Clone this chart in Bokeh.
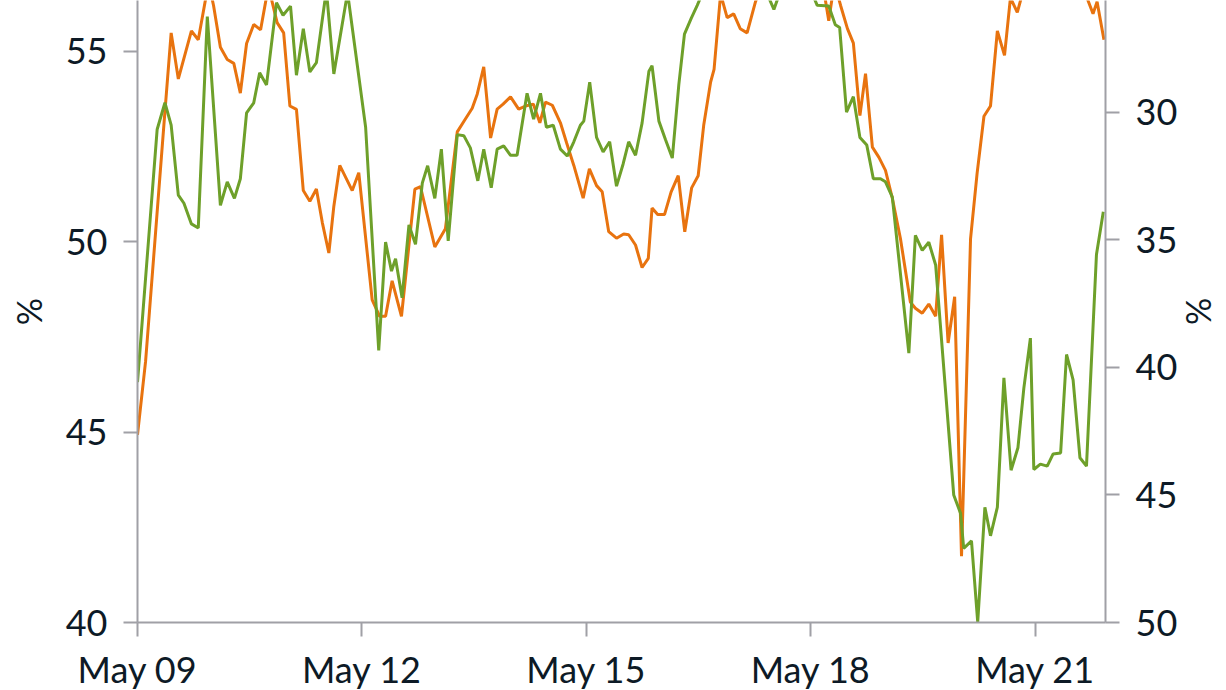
import pandas as pd
from bokeh.plotting import figure
from bokeh.models import Range1d, LinearAxis, FixedTicker, DatetimeTickFormatter
from bokeh.embed import file_html
from bokeh.resources import INLINE

# ---------------- data ----------------
start_date = "2023-05-09"
x_tick_dates = ["2023-05-09", "2023-05-12", "2023-05-15", "2023-05-18", "2023-05-21"]
end_hours = 310.6

left_ticks = [40, 45, 50, 55]
right_ticks = [30, 35, 40, 45, 50]

orange_hours = [0.0, 2.6, 8.6, 10.8, 13.1, 17.3, 19.5, 22.8, 24.4, 26.6, 28.8, 30.9, 33.0, 35.0, 37.3,
                39.5, 42.0, 44.8, 46.9, 48.9, 51.0, 53.2, 55.3, 57.4, 59.3, 61.4, 63.0, 64.9, 68.9,
                71.0, 75.3, 77.7, 79.6, 81.7, 84.7, 89.0, 90.8, 95.4, 98.8, 102.6, 104.9, 107.4,
                109.0, 111.1, 113.3, 115.4, 117.3, 119.7, 122.3, 124.5, 127.0, 129.1, 130.9, 133.1,
                135.7, 137.7, 140.0, 143.0, 145.0, 147.3, 149.1, 151.2, 153.7, 156.0, 157.6, 159.8,
                161.9, 163.9, 165.1, 166.9, 169.1, 171.2, 173.5, 175.6, 177.8, 179.9, 181.7, 183.9,
                185.0, 187.1, 189.2, 191.3, 193.4, 195.6, 198.3, 201.5, 206.3, 211.1, 215.9, 219.8,
                221.8, 223.6, 225.6, 227.8, 229.7, 231.8, 233.6, 235.8, 237.9, 240.0, 242.2, 244.8,
                248.0, 249.6, 251.8, 253.9, 256.1, 258.0, 260.1, 262.2, 264.4, 267.3, 269.4, 271.6,
                273.7, 275.9, 278.2, 280.1, 282.3, 284.9, 289.7, 294.5, 299.4, 304.2, 306.6, 307.9,
                310.1]
orange_values = [44.93, 46.86, 53.2, 55.48, 54.27, 55.53, 55.30, 56.80, 56.20, 55.10, 54.78, 54.68,
                 53.90, 55.20, 55.70, 55.56, 56.70, 55.75, 55.48, 53.56, 53.47, 51.34, 51.06, 51.38,
                 50.50, 49.70, 50.93, 52.00, 51.34, 51.81, 48.47, 48.04, 48.04, 48.97, 48.04, 51.38,
                 51.44, 49.86, 50.34, 52.88, 53.18, 53.50, 53.87, 54.59, 52.72, 53.48, 53.61, 53.80,
                 53.48, 53.56, 53.61, 53.12, 53.66, 53.58, 53.12, 52.59, 52.00, 51.14, 51.91, 51.47,
                 51.31, 50.26, 50.09, 50.20, 50.18, 49.91, 49.32, 49.56, 50.88, 50.71, 50.71, 51.30,
                 51.73, 50.26, 51.41, 51.73, 53.07, 54.19, 54.52, 56.50, 55.88, 55.98, 55.59, 55.48,
                 56.30, 57.00, 57.40, 57.00, 57.60, 56.80, 55.80, 56.80, 56.20, 55.59, 55.21, 53.31,
                 54.41, 52.48, 52.21, 51.87, 51.14, 50.08, 48.41, 48.25, 48.12, 48.36, 48.04, 50.18,
                 47.34, 48.55, 41.74, 50.08, 51.79, 53.29, 53.56, 55.53, 54.89, 56.40, 56.02, 56.80,
                 57.20, 57.00, 56.80, 56.50, 55.98, 56.30, 55.30]

green_hours = [0.0, 6.3, 8.8, 10.8, 13.1, 14.9, 17.3, 19.5, 22.4, 26.6, 28.8, 31.1, 33.0, 35.0, 37.3,
               39.2, 41.4, 44.6, 46.7, 49.1, 51.0, 53.2, 55.3, 57.4, 60.6, 63.0, 67.4, 73.2, 77.4,
               79.6, 81.5, 82.8, 84.9, 87.1, 89.2, 91.4, 93.1, 95.4, 97.5, 99.7, 102.6, 104.7,
               106.8, 109.2, 111.1, 113.5, 115.4, 117.5, 119.7, 121.8, 125.0, 127.1, 129.3, 131.2,
               133.4, 135.7, 137.9, 140.0, 142.1, 143.2, 145.1, 147.3, 149.4, 151.5, 153.7, 155.8,
               157.6, 159.8, 161.9, 164.1, 165.1, 167.3, 169.4, 171.6, 173.7, 175.5, 177.7, 179.6,
               182.4, 187.1, 191.9, 196.8, 201.5, 204.2, 207.0, 211.8, 216.0, 218.1, 221.8, 223.9,
               225.3, 227.5, 229.7, 231.8, 234.0, 236.1, 238.4, 240.0, 242.2, 247.5, 249.6, 251.8,
               253.9, 256.1, 261.9, 264.1, 265.1, 267.6, 269.6, 271.9, 273.7, 275.9, 278.0, 280.3,
               282.5, 284.4, 286.5, 287.6, 289.7, 291.9, 293.8, 296.2, 298.1, 300.2, 302.4, 304.5,
               307.7, 309.9]
green_values = [40.57, 30.67, 29.62, 30.50, 33.24, 33.56, 34.37, 34.53, 26.24, 33.64, 32.72, 33.37,
                32.60, 30.02, 29.62, 28.44, 28.92, 25.70, 26.19, 25.83, 28.54, 26.72, 28.41, 28.05,
                25.20, 28.49, 25.30, 30.58, 39.33, 35.08, 36.22, 35.74, 37.27, 34.41, 35.17, 32.76,
                32.09, 33.37, 31.44, 35.04, 30.87, 30.91, 31.39, 32.68, 31.44, 32.95, 31.44, 31.31,
                31.68, 31.68, 29.25, 30.26, 29.25, 30.58, 30.50, 31.44, 31.71, 31.15, 30.50, 30.34,
                28.81, 30.98, 31.55, 31.15, 32.89, 32.03, 31.15, 31.68, 30.42, 28.38, 28.17, 30.34,
                31.06, 31.79, 28.90, 26.93, 26.30, 25.80, 25.00, 24.50, 24.90, 24.40, 25.20, 25.96,
                25.00, 24.60, 25.20, 25.80, 25.83, 26.56, 26.67, 29.99, 29.38, 30.98, 31.28, 32.60,
                32.60, 32.72, 33.32, 39.44, 34.82, 35.41, 35.09, 35.98, 45.00, 45.72, 47.09, 46.80,
                49.99, 45.48, 46.60, 45.48, 40.41, 44.03, 43.15, 40.81, 38.85, 44.00, 43.79, 43.87,
                43.39, 43.35, 39.49, 40.49, 43.54, 43.87, 35.57, 33.89]

# ---------------- build ----------------
base = pd.Timestamp(start_date)
orange_x = [base + pd.Timedelta(hours=h) for h in orange_hours]
green_x = [base + pd.Timedelta(hours=h) for h in green_hours]
tick_ms = [pd.Timestamp(d).value // 10**6 for d in x_tick_dates]

FONT = "Lato"
TXT = "#0d1a26"
AX = "#a0a0a6"
FS = "36px"

p = figure(frame_width=968, frame_height=622, x_axis_type="datetime",
           x_range=Range1d(base, base + pd.Timedelta(hours=end_hours)),
           y_range=Range1d(40, 56.33),
           output_backend="svg", toolbar_location=None,
           min_border_left=137, min_border_right=90, min_border_top=0, min_border_bottom=40)
p.extra_y_ranges = {"right": Range1d(50, 25.61)}

p.outline_line_color = None
p.xgrid.visible = False
p.ygrid.visible = False
p.background_fill_color = "white"

p.line(orange_x, orange_values, line_color="#e8730f", line_width=3)
p.line(green_x, green_values, line_color="#6ea02a", line_width=3, y_range_name="right")

raxis = LinearAxis(y_range_name="right")
p.add_layout(raxis, "right")

for ax in [p.xaxis[0], p.yaxis[0], raxis]:
    ax.axis_line_color = AX
    ax.axis_line_width = 2
    ax.major_tick_line_color = AX
    ax.major_tick_line_width = 2
    ax.major_tick_out = 14
    ax.major_tick_in = 0
    ax.minor_tick_line_color = None
    ax.major_label_text_font = FONT
    ax.major_label_text_font_size = FS
    ax.major_label_text_color = TXT
    ax.axis_label_text_font = FONT
    ax.axis_label_text_font_size = "34px"
    ax.axis_label_text_font_style = "normal"
    ax.axis_label_text_color = TXT

p.xaxis[0].ticker = FixedTicker(ticks=tick_ms)
p.xaxis[0].formatter = DatetimeTickFormatter(days="%b %d", months="%b %d", hours="%b %d",
                                             years="%b %d")
p.xaxis[0].major_label_standoff = 10

p.yaxis[0].ticker = FixedTicker(ticks=left_ticks)
p.yaxis[0].axis_label = "%"
p.yaxis[0].major_label_standoff = 16
p.yaxis[0].axis_label_standoff = 14

raxis.ticker = FixedTicker(ticks=right_ticks)
raxis.axis_label = "%"
raxis.major_label_standoff = 16
raxis.axis_label_standoff = -1

open("out.html", "w").write(file_html(p, INLINE))
